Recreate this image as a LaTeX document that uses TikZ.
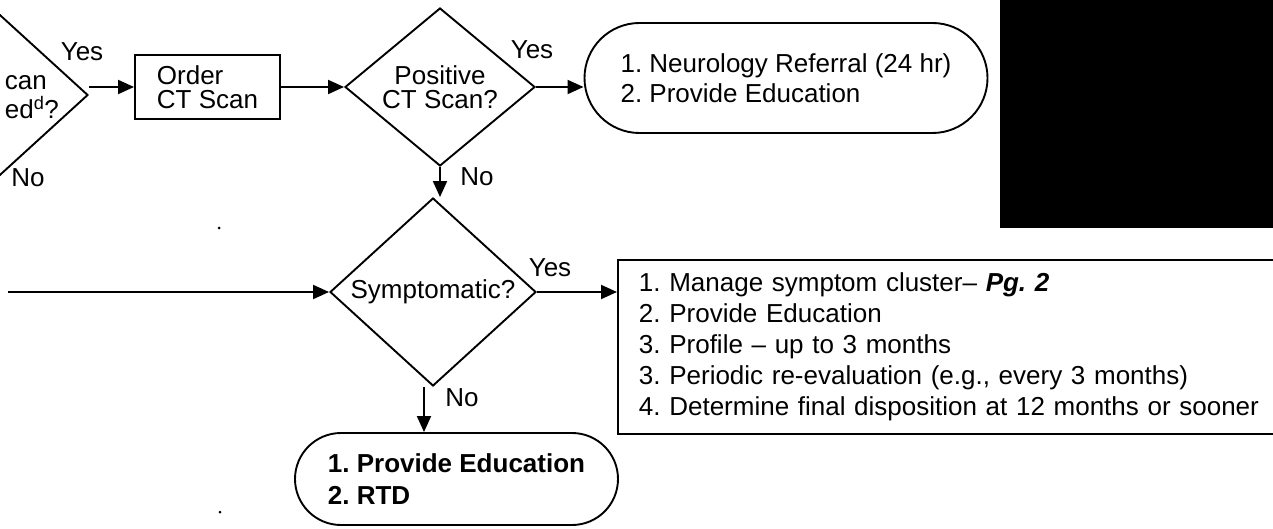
\documentclass[tikz,border=0pt]{standalone}
\usepackage{fontspec}
\setmainfont{Liberation Sans}
\usetikzlibrary{shapes.geometric,arrows.meta}
\frenchspacing
\begin{document}
\begin{tikzpicture}[x=1pt,y=-1pt,line width=1.9pt,
  every node/.style={font=\fontsize{26}{30}\selectfont},
  arr/.style={-{Triangle[length=16pt,width=14pt]}},
  dec/.style={diamond,draw,aspect=1.2,inner sep=0pt,align=center},
  procbox/.style={rectangle,draw,align=left},
  term/.style={rectangle,draw,align=left},
  lbl/.style={inner sep=0pt}]
\clip (0,0) rectangle (1273,529);
% top row
\node[dec,minimum width=206pt,minimum height=188pt] (d0) at (-15,95) {};
\node[lbl,anchor=west] (t0a) at (4,83) {can};
\node[lbl,anchor=west] (t0b) at (4,108) {ed\textsuperscript{d}?};
\node[lbl] (y0) at (82,52) {Yes};
\node[lbl] (n0) at (28,178) {No};
\node[procbox,minimum width=145pt,minimum height=64pt,font=\fontsize{26}{24}\selectfont] (order) at (207.5,87) {Order\\CT Scan};
\node[dec,minimum width=190pt,minimum height=158pt,font=\fontsize{26}{24}\selectfont] (pos) at (440,87) {Positive\\CT Scan?};
\node[term,rounded corners=55pt,minimum width=403pt,minimum height=110pt] (neuro) at (786,78) {1. Neurology Referral (24 hr)\\2. Provide Education};
\node[lbl] (y1) at (532,50) {Yes};
\node[lbl] (n1) at (477,177) {No};
\fill (1000,0) rectangle (1280,228);
\draw[arr] (order.west -| d0.east) -- (order.west);
\draw[arr] (order.east) -- (pos.west);
\draw[arr] (pos.east) -- (pos.east -| neuro.west);
% middle row
\node[dec,minimum width=206pt,minimum height=188pt] (sym) at (433,292) {Symptomatic?};
\coordinate (in0) at (8,292);
\draw[arr] (in0) -- (sym.west);
\draw[arr] (pos.south) -- (pos.south |- sym.north);
\node[procbox,anchor=north west,text width=652pt,inner xsep=21pt,minimum height=174pt,font=\fontsize{26}{31}\selectfont] (mgmt) at (617,259) {1. Manage symptom cluster\textendash{} \textbf{\textit{Pg. 2}}\\2. Provide Education\\3. Profile \textendash{} up to 3 months\\3. Periodic re-evaluation (e.g., every 3 months)\\4. Determine final disposition at 12 months or sooner};
\draw[arr] (sym.east) -- (sym.east -| mgmt.west);
\node[lbl] (y2) at (550,268) {Yes};
% bottom
\node[term,rounded corners=46pt,minimum width=323pt,minimum height=92pt,font=\bfseries\fontsize{26}{32}\selectfont] (rtd) at (456.5,479) {1. Provide Education\\2. RTD};
\draw[arr] ([xshift=-9pt]sym.south) -- ([xshift=-9pt]sym.south |- rtd.north);
\node[lbl] (n2) at (462,398) {No};
\fill (219,228) circle (1.5pt);
\fill (220,512) circle (1.5pt);
\end{tikzpicture}
\end{document}
